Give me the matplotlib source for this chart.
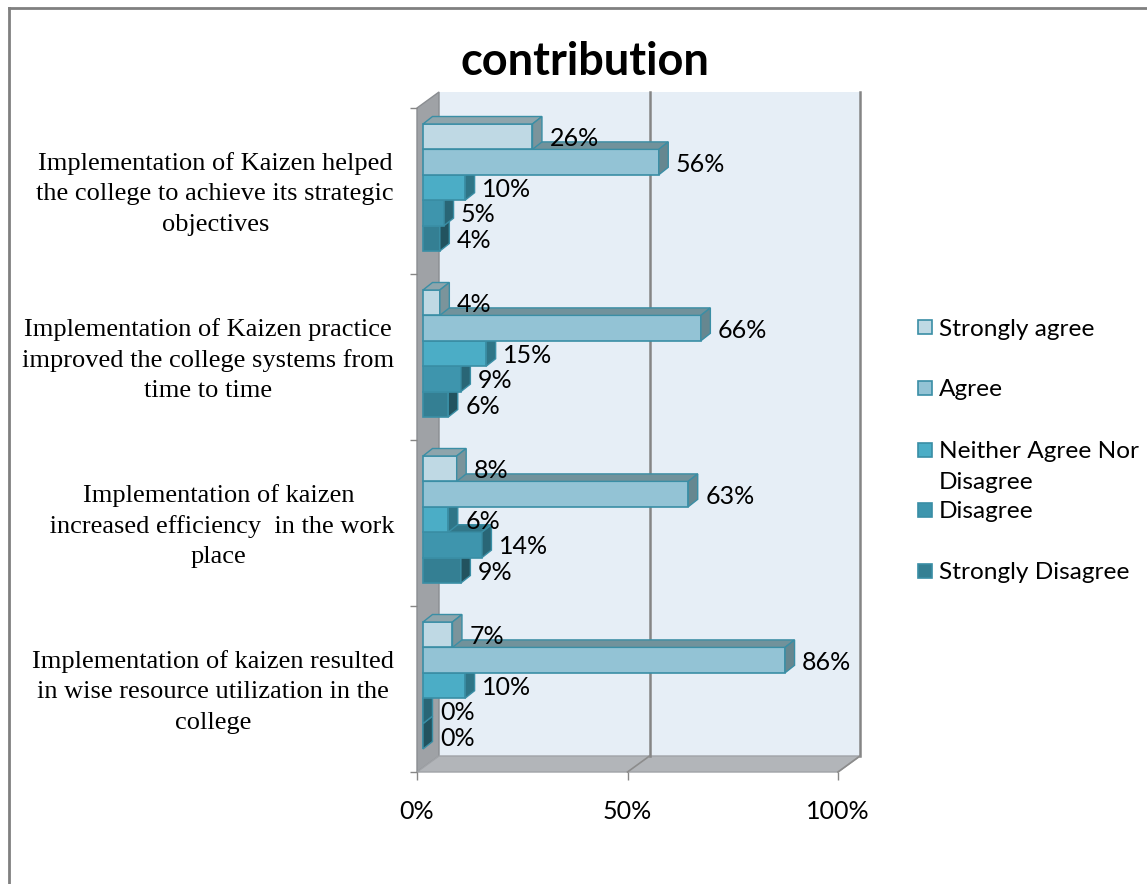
import matplotlib
matplotlib.use("Agg")
import matplotlib.pyplot as plt
from matplotlib.patches import Polygon, Rectangle
import numpy as np

# categories listed top to bottom as they appear on the chart
categories = [
    "Implementation of Kaizen helped\nthe college to achieve its strategic\nobjectives",
    "Implementation of Kaizen practice\nimproved the college systems from\ntime to time",
    "Implementation of kaizen\n increased efficiency  in the work\nplace",
    "Implementation of kaizen resulted\nin wise resource utilization in the\ncollege",
]
series = ["Strongly agree", "Agree", "Neither Agree Nor\nDisagree", "Disagree", "Strongly Disagree"]
strongly_agree = [26, 4, 8, 7]
agree = [56, 66, 63, 86]
neither = [10, 15, 6, 10]
disagree = [5, 9, 14, 0]
strongly_disagree = [4, 6, 9, 0]
x_ticks = [0, 50, 100]
x_tick_labels = ["0%", "50%", "100%"]

front_colors = ["#bfd9e4", "#93c3d5", "#4badc6", "#3e95ad", "#347f93"]
top_colors = ["#8ea5ac", "#71929b", "#3c8a9c", "#317789", "#2a6676"]
side_colors = ["#7b949b", "#668790", "#2f7587", "#296676", "#22535f"]
EDGE = "#3a8ea5"
SANS = "Lato"
SERIF = "Liberation Serif"

W, H = 1147, 884
fig = plt.figure(figsize=(W / 100, H / 100), dpi=100)

# overlay in pixel units for title, legend and the outer frame
lay = fig.add_axes([0, 0, 1, 1])
lay.set_xlim(0, W)
lay.set_ylim(H, 0)
lay.axis("off")

# front plane of the 3-D box
L, R, T, B = 417, 838, 108, 772
ax = fig.add_axes([L / W, 1 - B / H, (R - L) / W, (B - T) / H])
ax.patch.set_visible(False)
n = len(categories)
ax.set_xlim(0, 100)
ax.set_ylim(0, n)

px_x = (R - L) / 100
px_y = (B - T) / n
DX, DY = 22 / px_x, 16 / px_y        # depth of the box
BX = 6 / px_x                        # bars sit a little inside the box
BDX, BDY = 9.5 / px_x, 7.5 / px_y    # bar depth
H_BAR = 25.4 / px_y
TOP_GAP = 16 / px_y
LABEL_GAP = 17 / px_x

# back wall, side wall, floor
ax.add_patch(Polygon([(DX, DY), (100 + DX, DY), (100 + DX, n + DY), (DX, n + DY)],
                     closed=True, fc="#e6eef6", ec="none", zorder=0, clip_on=False))
ax.add_patch(Polygon([(0, 0), (DX, DY), (DX, n + DY), (0, n)], closed=True,
                     fc="#9fa2a6", ec="#8a8d91", lw=1, zorder=0.5, clip_on=False))
ax.add_patch(Polygon([(0, 0), (100, 0), (100 + DX, DY), (DX, DY)], closed=True,
                     fc="#b2b5b9", ec="#a0a3a7", lw=1, zorder=0.5, clip_on=False))
for t in x_ticks[1:]:
    ax.plot([t + DX, t + DX], [DY, n + DY], color="#858585", lw=1.8, zorder=1, clip_on=False)
    ax.plot([t, t + DX], [0, DY], color="#8c8c8c", lw=1.2, zorder=1, clip_on=False)

values = [strongly_agree, agree, neither, disagree, strongly_disagree]
for s in reversed(range(len(series))):
    vals = np.array(values[s])
    ys = np.array([n - i - TOP_GAP - H_BAR * (s + 0.5) for i in range(n)])
    z = 3 + (len(series) - s) * 0.1
    ax.barh(ys, vals, left=BX, height=H_BAR, color=front_colors[s],
            edgecolor=EDGE, lw=1.2, zorder=z, clip_on=False)
    for v, y in zip(vals, ys):
        x1 = BX + v
        top, bot = y + H_BAR / 2, y - H_BAR / 2
        ax.add_patch(Polygon([(BX, top), (x1, top), (x1 + BDX, top + BDY), (BX + BDX, top + BDY)],
                             closed=True, fc=top_colors[s], ec=EDGE, lw=1.0, zorder=z, clip_on=False))
        ax.add_patch(Polygon([(x1, bot), (x1 + BDX, bot + BDY), (x1 + BDX, top + BDY), (x1, top)],
                             closed=True, fc=side_colors[s], ec=EDGE, lw=1.0, zorder=z, clip_on=False))
        ax.text(x1 + LABEL_GAP, y, f"{v}%", va="center_baseline", ha="left",
                fontsize=18, family=SANS, color="black", zorder=10, clip_on=False)

for sp in ax.spines.values():
    sp.set_visible(False)
ax.set_xticks(x_ticks, x_tick_labels)
ax.set_yticks(range(n + 1), [])
ax.set_yticks([n - i - 0.5 - 3 / px_y for i in range(n)], categories, minor=True)
ax.tick_params(axis="x", length=6, width=1, color="#868686", pad=14, labelsize=18)
ax.tick_params(axis="y", which="major", length=5, width=1, color="#868686")
ax.tick_params(axis="y", which="minor", length=0, pad=16.5)
for lab in ax.get_xticklabels():
    lab.set_family(SANS)
for lab in ax.get_yticklabels(minor=True):
    lab.set_family(SERIF)
    lab.set_fontsize(19)
    lab.set_multialignment("center")
    lab.set_linespacing(1.48)
    lab.set_va("center")

# title
lay.text(585, 75, "contribution", ha="center", va="baseline", fontsize=32.5,
         weight="bold", family=SANS)

# legend
legend_y = [327, 388, 449.5, 509.5, 570.5]
for s, name in enumerate(series):
    lay.add_patch(Rectangle((918, legend_y[s] - 7), 14, 14, fc=front_colors[s], ec=EDGE, lw=1.2))
    for k, line in enumerate(name.split("\n")):
        lay.text(939, legend_y[s] + 31 * k, line, va="center_baseline", ha="left",
                 fontsize=17.6, family=SANS)

# outer frame
lay.plot([9, 9], [H, 8], color="#808080", lw=2)
lay.plot([9, W], [8, 8], color="#808080", lw=2)

fig.savefig("out.png", dpi=100)
